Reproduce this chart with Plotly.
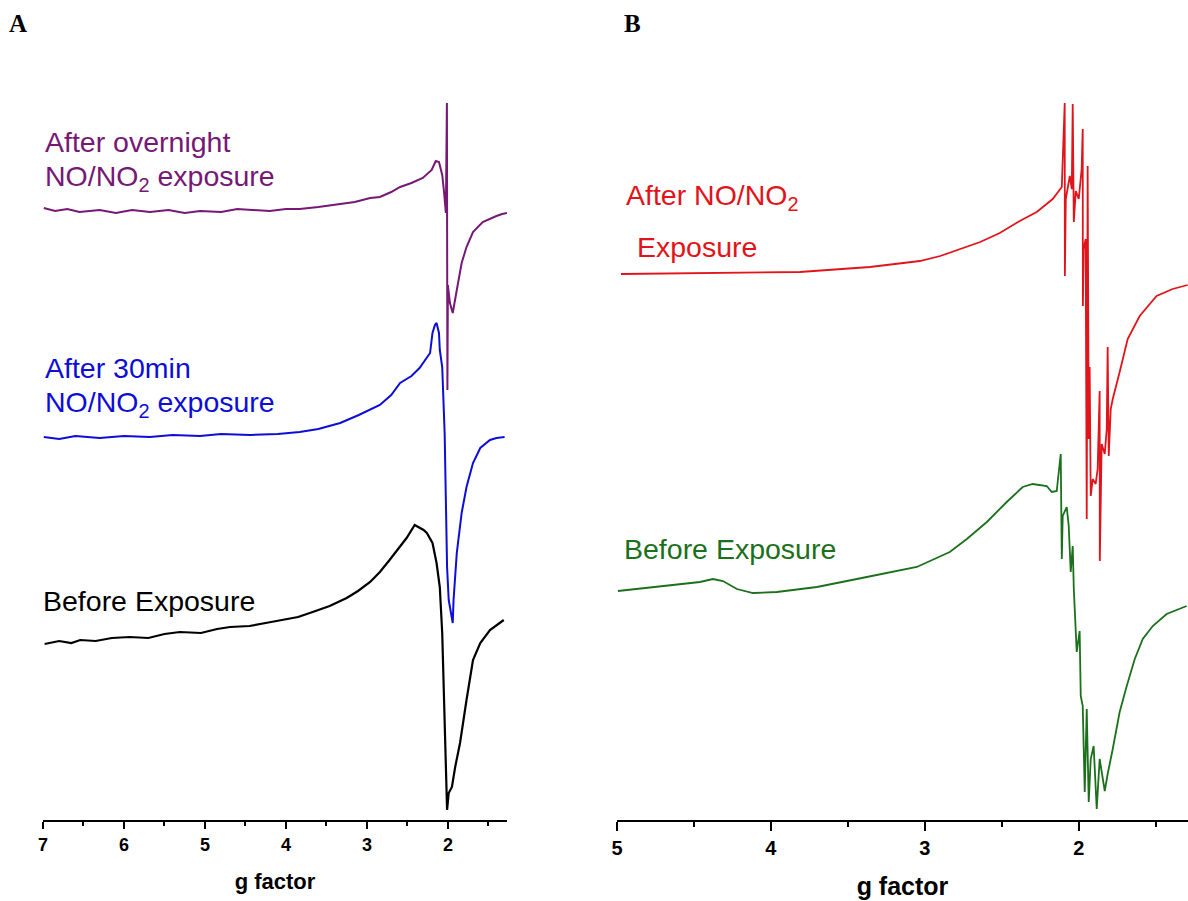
import plotly.graph_objects as go

# ---------------- Panel A (g factor, intensity a.u.) ----------------
a_overnight_g = [6.99, 6.85, 6.70, 6.55, 6.30, 6.10, 5.90, 5.68, 5.45, 5.25, 5.06, 4.80, 4.60, 4.44,
                 4.20, 4.00, 3.83, 3.60, 3.33, 3.15, 2.96, 2.84, 2.70, 2.59, 2.45, 2.31, 2.20, 2.15,
                 2.11, 2.07, 2.05, 2.04, 2.025, 2.012, 2.006, 2.00, 1.975, 1.94, 1.89, 1.83, 1.77,
                 1.69, 1.57, 1.47, 1.40, 1.33, 1.27]
a_overnight_i = [612, 609, 611, 608, 610, 607, 610, 608, 610, 607, 609, 608, 611, 610,
                 609, 611, 611, 613, 616, 618, 622, 623, 628, 633, 637, 642, 650, 659,
                 658, 645, 630, 623, 607, 717, 430, 535, 517, 507, 530, 557, 573,
                 588, 598, 602, 604, 606, 607]

a_30min_g = [6.99, 6.80, 6.60, 6.30, 6.00, 5.68, 5.40, 5.06, 4.80, 4.44, 4.10, 3.83, 3.60, 3.33,
             3.10, 2.84, 2.70, 2.59, 2.45, 2.35, 2.22, 2.19, 2.16, 2.14,
             2.11, 2.10, 2.07, 2.06, 2.04, 2.025, 2.01, 1.99, 1.96, 1.94, 1.93, 1.89, 1.83,
             1.77, 1.69, 1.60, 1.48, 1.40, 1.30]
a_30min_i = [383, 381, 384, 382, 384, 383, 385, 384, 386, 385, 386, 388, 391, 397,
             405, 415, 425, 437, 444, 452, 467, 487, 495, 497,
             487, 470, 453, 430, 387, 320, 253, 220, 207, 197, 220, 267, 307,
             333, 357, 372, 380, 382, 383]

a_before_g = [6.98, 6.80, 6.65, 6.54, 6.35, 6.15, 5.93, 5.70, 5.50, 5.31, 5.05, 4.85, 4.69, 4.45,
              4.25, 4.07, 3.85, 3.67, 3.46, 3.25, 3.11, 2.96, 2.84, 2.72, 2.62, 2.51, 2.41, 2.30,
              2.26, 2.19, 2.14, 2.10, 2.07, 2.05, 2.025, 2.01, 1.99, 1.95, 1.91, 1.85, 1.77, 1.69,
              1.60, 1.48, 1.31]
a_before_i = [176, 179, 177, 180, 179, 182, 183, 182, 186, 188, 187, 191, 193, 194,
              197, 200, 203, 208, 214, 222, 229, 238, 248, 260, 270, 282, 295, 290,
              287, 277, 257, 233, 187, 120, 53, 10, 27, 33, 53, 77, 120, 160,
              177, 190, 200]

# ---------------- Panel B ----------------
b_after_g = [4.974, 4.461, 3.812, 3.357, 3.032, 2.900, 2.773, 2.640, 2.513, 2.383, 2.273, 2.169,
             2.110, 2.091, 2.090, 2.084, 2.058, 2.045, 2.039, 2.032, 2.019, 2.000, 1.981, 1.974,
             1.973, 1.968, 1.955, 1.948, 1.942, 1.935, 1.929, 1.922, 1.909, 1.890, 1.877, 1.864,
             1.863, 1.851, 1.831, 1.818, 1.812, 1.805, 1.792, 1.779, 1.734, 1.682, 1.604, 1.494,
             1.390, 1.292]
b_after_i = [546, 547, 548, 553, 559, 564, 571, 578, 587, 599, 608, 621,
             633, 717, 544, 621, 644, 631, 716, 598, 629, 621, 651, 691,
             514, 571, 581, 301, 654, 381, 453, 324, 341, 336, 351, 429,
             259, 376, 366, 391, 473, 364, 411, 421, 448, 481, 504, 524,
             531, 535]

b_before_g = [4.994, 4.675, 4.461, 4.377, 4.312, 4.221, 4.117, 3.961, 3.701, 3.377, 3.052, 2.838,
              2.727, 2.597, 2.468, 2.364, 2.299, 2.208, 2.175, 2.143, 2.130, 2.117, 2.110, 2.104,
              2.078, 2.065, 2.052, 2.039, 2.032, 2.026, 2.013, 1.994, 1.987, 1.974, 1.961, 1.948,
              1.935, 1.922, 1.903, 1.883, 1.864, 1.831, 1.812, 1.779, 1.734, 1.688, 1.636, 1.584,
              1.519, 1.429, 1.299]
b_before_i = [229, 234, 238, 241, 239, 231, 227, 228, 233, 243, 253, 268,
              281, 298, 318, 333, 336, 334, 328, 329, 348, 366, 261, 304,
              313, 294, 248, 274, 231, 208, 168, 189, 124, 114, 28, 111,
              18, 61, 74, 11, 61, 29, 46, 71, 108, 134, 161, 181,
              194, 206, 214]

a_ticks = [7, 6, 5, 4, 3, 2]
b_ticks = [5, 4, 3, 2]

C_PURPLE = "#761876"
C_BLUE = "#0d0dd6"
C_BLACK = "#000000"
C_RED = "#e0141a"
C_GREEN = "#1b701b"

fig = go.Figure()
fig.add_trace(go.Scatter(x=a_overnight_g, y=a_overnight_i, mode="lines",
                         line=dict(color=C_PURPLE, width=2), xaxis="x", yaxis="y"))
fig.add_trace(go.Scatter(x=a_30min_g, y=a_30min_i, mode="lines",
                         line=dict(color=C_BLUE, width=2), xaxis="x", yaxis="y"))
fig.add_trace(go.Scatter(x=a_before_g, y=a_before_i, mode="lines",
                         line=dict(color=C_BLACK, width=2.2), xaxis="x", yaxis="y"))
fig.add_trace(go.Scatter(x=b_after_g, y=b_after_i, mode="lines",
                         line=dict(color=C_RED, width=1.8), xaxis="x2", yaxis="y2"))
fig.add_trace(go.Scatter(x=b_before_g, y=b_before_i, mode="lines",
                         line=dict(color=C_GREEN, width=1.8), xaxis="x2", yaxis="y2"))

L, W, TOP, BOT = 43, 1145, 95, 820


def px_x(p):
    return (p - L) / W


def px_y(p):
    return (BOT - p) / (BOT - TOP)


xa_common = dict(showgrid=False, zeroline=False, showline=True, linecolor="black", linewidth=2,
                 ticks="outside", tickcolor="black", tickwidth=2, automargin=False,
                 title_font=dict(family="Liberation Sans, Arial", color="black", weight="bold"))

fig.update_layout(
    width=1188, height=901,
    margin=dict(l=L, r=0, t=TOP, b=901 - BOT),
    paper_bgcolor="white", plot_bgcolor="white",
    showlegend=False,
    xaxis=dict(domain=[0, px_x(507)], range=[7, 1.27], tickvals=a_ticks, ticklen=7,
               tickfont=dict(family="Liberation Sans, Arial", size=18, color="black", weight="bold"),
               minor=dict(dtick=0.5, tick0=0, ticks="outside", ticklen=4, tickwidth=2, tickcolor="black"),
               title=dict(text="g factor", standoff=20, font=dict(size=22)),
               anchor="y", **xa_common),
    yaxis=dict(domain=[0, 1], range=[0, 725], visible=False, anchor="x"),
    xaxis2=dict(domain=[px_x(617), 1], range=[5, 1.29], tickvals=b_ticks, ticklen=9,
                tickfont=dict(family="Liberation Sans, Arial", size=20, color="black", weight="bold"),
                minor=dict(dtick=0.5, tick0=0, ticks="outside", ticklen=5, tickwidth=2, tickcolor="black"),
                title=dict(text="g factor", standoff=19, font=dict(size=25)),
                anchor="y2", **xa_common),
    yaxis2=dict(domain=[0, 1], range=[0, 725], visible=False, anchor="x2"),
)

FONT = "Liberation Sans, Arial"
labels = [
    ("After overnight", 43, 142, C_PURPLE),
    ("NO/NO<sub>2</sub> exposure", 43, 178, C_PURPLE),
    ("After 30min", 43, 368, C_BLUE),
    ("NO/NO<sub>2</sub> exposure", 43, 404, C_BLUE),
    ("Before Exposure", 41, 601, C_BLACK),
    ("After NO/NO<sub>2</sub>", 624, 197, C_RED),
    ("Exposure", 635, 247, C_RED),
    ("Before Exposure", 622, 549, C_GREEN),
]
for text, x, y, col in labels:
    fig.add_annotation(text=text, x=px_x(x), y=px_y(y), xref="paper", yref="paper",
                       xanchor="left", yanchor="middle", showarrow=False,
                       font=dict(family=FONT, size=28.5, color=col))

for text, x, y in [("A", 7, 24), ("B", 622, 24)]:
    fig.add_annotation(text=text, x=px_x(x), y=px_y(y), xref="paper", yref="paper",
                       xanchor="left", yanchor="middle", showarrow=False,
                       font=dict(family="Liberation Serif, Times New Roman", size=25,
                                 color="black", weight="bold"))

fig.write_html("out.html")
